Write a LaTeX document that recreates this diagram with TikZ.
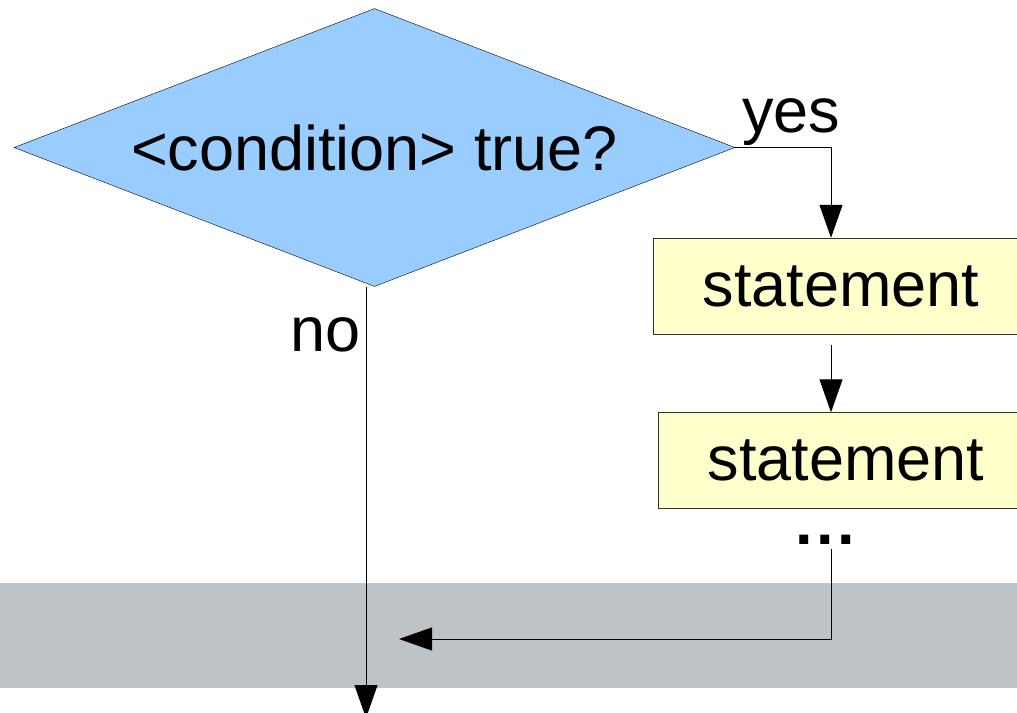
\documentclass[tikz,border=0pt]{standalone}
\usepackage{fontspec}
\setmainfont{Liberation Sans}
\usetikzlibrary{arrows.meta,shapes.geometric}
\definecolor{condblue}{HTML}{99CCFF}
\definecolor{stmtyellow}{HTML}{FFFFCC}
\definecolor{bandgray}{HTML}{BEC3C7}

\begin{document}
\begin{tikzpicture}[x=1pt,y=-1pt]
  \tikzstyle{every node}=[font=\fontsize{63}{70}\selectfont,inner sep=0pt]
  \tikzstyle{cond}=[diamond,draw,fill=condblue,aspect=2.6,minimum width=721pt,minimum height=278pt]
  \tikzstyle{stmt}=[rectangle,draw=black!80,fill=stmtyellow,minimum width=376pt,minimum height=96pt]
  \tikzstyle{flow}=[draw,line width=1pt,-{Triangle[length=33pt,width=23pt]}]
\useasboundingbox (0,0) rectangle (1017,712);
% grey band behind the join
\fill[bandgray] (0,583) rectangle (1017,688);

\node[cond] (c) at (374.5,147.5) {<condition> true?};
\node[stmt] (s1) at (841,286) {statement};
\node[stmt] (s2) at (846,460.5) {statement};
\node[anchor=base] (dots) at (825.5,544) {\bfseries .\kern3.5pt.\kern3.5pt.};
\node[anchor=base west] (yes) at (742,132) {yes};
\node[anchor=base west] (no) at (290,351) {no};

\coordinate (yesturn) at (831,144);
\coordinate (backturn) at (831,639);
\coordinate (join) at (399,639);
\coordinate (exit) at (366,718);

\draw[flow] (c.east) -- (c.east -| yesturn) -- (s1.north -| yesturn);
\draw[flow] ([yshift=-11pt]s1.south -| yesturn) -- (s2.north -| yesturn);
\draw[flow] ([yshift=-5pt]dots.south -| backturn) -- (backturn) -- (join);
\draw[flow] (c.south -| exit) -- (exit);
\end{tikzpicture}
\end{document}
